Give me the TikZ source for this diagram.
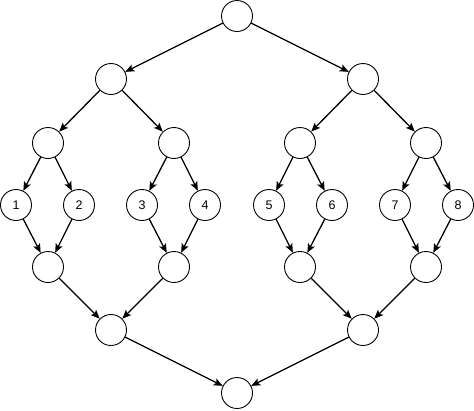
\documentclass[tikz,border=0pt]{standalone}
\usepackage{fontspec}
\setmainfont{Liberation Sans}
\usetikzlibrary{arrows.meta}
\begin{document}
\begin{tikzpicture}[x=1pt,y=-1pt,
  vert/.style={circle,draw,line width=0.9pt,minimum size=31pt,inner sep=0pt,font=\fontsize{12.5}{14}\selectfont},
  edge/.style={line width=1.3pt,-{Stealth[length=9pt,width=7.5pt,inset=2pt]}}]
\useasboundingbox (0,0) rectangle (474,410);
\node[vert] (t) at (237,16) {};
\node[vert] (a) at (111,79) {};
\node[vert] (b) at (363,79) {};
\node[vert] (a1) at (48,143) {};
\node[vert] (a2) at (174,143) {};
\node[vert] (b1) at (300,143) {};
\node[vert] (b2) at (426,143) {};
\node[vert] (n1) at (16,205) {1};
\node[vert] (n2) at (79,205) {2};
\node[vert] (n3) at (142,205) {3};
\node[vert] (n4) at (205,205) {4};
\node[vert] (n5) at (269,205) {5};
\node[vert] (n6) at (332,205) {6};
\node[vert] (n7) at (395,205) {7};
\node[vert] (n8) at (458,205) {8};
\node[vert] (c1) at (48,267) {};
\node[vert] (c2) at (174,267) {};
\node[vert] (d1) at (300,267) {};
\node[vert] (d2) at (426,267) {};
\node[vert] (c) at (111,330) {};
\node[vert] (d) at (363,330) {};
\node[vert] (z) at (237,393) {};
\draw[edge] (t) -- (a);
\draw[edge] (t) -- (b);
\draw[edge] (a) -- (a1);
\draw[edge] (a) -- (a2);
\draw[edge] (b) -- (b1);
\draw[edge] (b) -- (b2);
\draw[edge] (a1) -- (n1);
\draw[edge] (a1) -- (n2);
\draw[edge] (a2) -- (n3);
\draw[edge] (a2) -- (n4);
\draw[edge] (b1) -- (n5);
\draw[edge] (b1) -- (n6);
\draw[edge] (b2) -- (n7);
\draw[edge] (b2) -- (n8);
\draw[edge] (n1) -- (c1);
\draw[edge] (n2) -- (c1);
\draw[edge] (n3) -- (c2);
\draw[edge] (n4) -- (c2);
\draw[edge] (n5) -- (d1);
\draw[edge] (n6) -- (d1);
\draw[edge] (n7) -- (d2);
\draw[edge] (n8) -- (d2);
\draw[edge] (c1) -- (c);
\draw[edge] (c2) -- (c);
\draw[edge] (d1) -- (d);
\draw[edge] (d2) -- (d);
\draw[edge] (c) -- (z);
\draw[edge] (d) -- (z);
\end{tikzpicture}
\end{document}
